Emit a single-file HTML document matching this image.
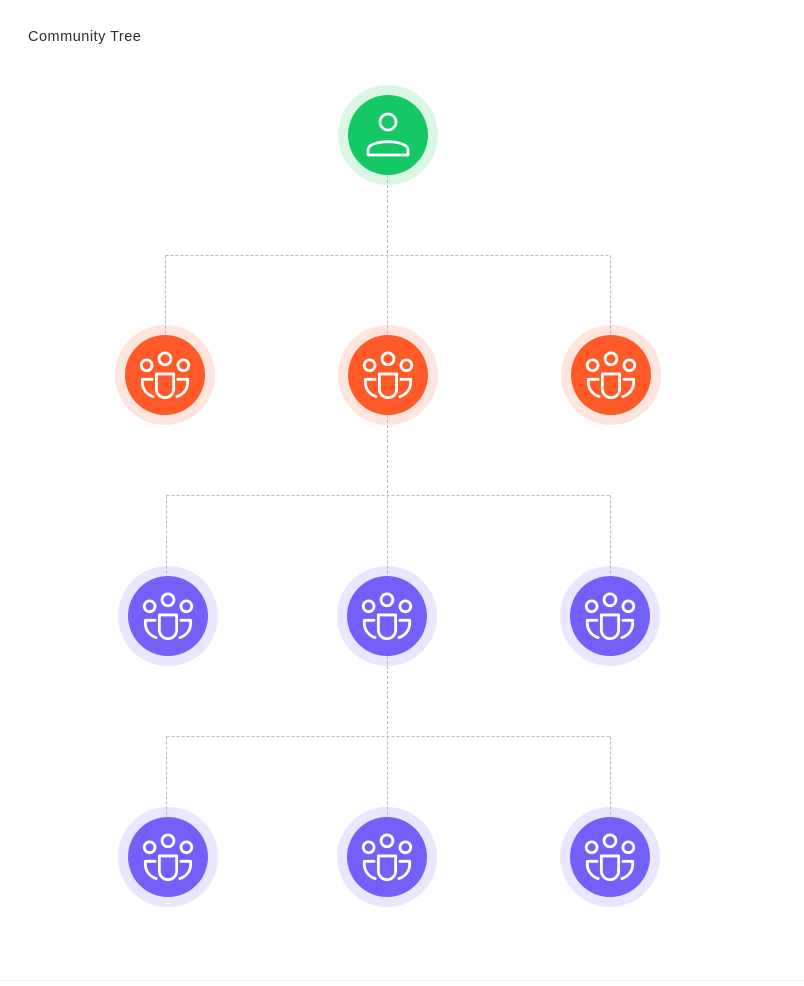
<!DOCTYPE html>
<html><head><style>
body{margin:0;background:#fff;width:804px;height:981px;overflow:hidden;font-family:"Liberation Sans",sans-serif}
</style></head><body>
<svg width="804" height="981" viewBox="0 0 804 981" xmlns="http://www.w3.org/2000/svg">
<defs>
<g id="grp" fill="none" stroke="#fff" stroke-width="2.6" stroke-linecap="round" stroke-linejoin="round" transform="scale(1.08)">
<circle cx="0" cy="-15" r="5.5"/>
<circle cx="-17" cy="-9" r="5"/>
<circle cx="17" cy="-9" r="5"/>
<path d="M-8,-1 H8 V13 A8,8 0 0 1 -8,13 Z"/>
<path d="M-12,4 H-21 V7 C-21,13 -17,18 -11,20"/>
<path d="M12,4 H21 V7 C21,13 17,18 11,20"/>
</g>
</defs>
<text x="28" y="41" font-size="14.5" letter-spacing="0.5" fill="#2b2f33">Community Tree</text>
<line x1="0" y1="980.5" x2="804" y2="980.5" stroke="#eee"/>

<circle cx="388" cy="135" r="50" fill="#dcf6e6"/>
<circle cx="388" cy="135" r="40" fill="#13c865"/>
<g fill="none" stroke="#fff" stroke-width="2.8" stroke-linejoin="round">
<circle cx="388" cy="122" r="8"/>
<path d="M368,155 V150 C368,139 408,139 408,150 V155 Z"/>
</g>

<g>
<circle cx="165" cy="375" r="50" fill="#fee5dd"/><circle cx="165" cy="375" r="40" fill="#ff5a27"/>
<circle cx="388" cy="375" r="50" fill="#fee5dd"/><circle cx="388" cy="375" r="40" fill="#ff5a27"/>
<circle cx="611" cy="375" r="50" fill="#fee5dd"/><circle cx="611" cy="375" r="40" fill="#ff5a27"/>
<circle cx="168" cy="616" r="50" fill="#e9e6fe"/><circle cx="168" cy="616" r="40" fill="#7360fa"/>
<circle cx="387" cy="616" r="50" fill="#e9e6fe"/><circle cx="387" cy="616" r="40" fill="#7360fa"/>
<circle cx="610" cy="616" r="50" fill="#e9e6fe"/><circle cx="610" cy="616" r="40" fill="#7360fa"/>
<circle cx="168" cy="857" r="50" fill="#e9e6fe"/><circle cx="168" cy="857" r="40" fill="#7360fa"/>
<circle cx="387" cy="857" r="50" fill="#e9e6fe"/><circle cx="387" cy="857" r="40" fill="#7360fa"/>
<circle cx="610" cy="857" r="50" fill="#e9e6fe"/><circle cx="610" cy="857" r="40" fill="#7360fa"/>
</g>

<g fill="none" stroke="#bbb" stroke-width="1" stroke-dasharray="3,2">
<path d="M387.5,175 V255.5 M165.5,255.5 H610.5 M165.5,255.5 V335 M387.5,255.5 V335 M610.5,255.5 V335"/>
<path d="M387.5,415 V495.5 M166.5,495.5 H610.5 M166.5,495.5 V576 M387.5,495.5 V576 M610.5,495.5 V576"/>
<path d="M387.5,656 V736.5 M166.5,736.5 H610.5 M166.5,736.5 V817 M387.5,736.5 V817 M610.5,736.5 V817"/>
</g>

<use href="#grp" x="165" y="375"/>
<use href="#grp" x="388" y="375"/>
<use href="#grp" x="611" y="375"/>
<use href="#grp" x="168" y="616"/>
<use href="#grp" x="387" y="616"/>
<use href="#grp" x="610" y="616"/>
<use href="#grp" x="168" y="857"/>
<use href="#grp" x="387" y="857"/>
<use href="#grp" x="610" y="857"/>
</svg>
</body></html>
